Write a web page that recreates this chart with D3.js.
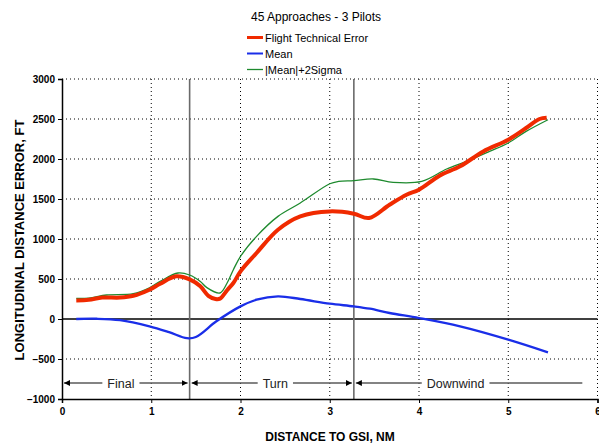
<!DOCTYPE html>
<html>
<head>
<meta charset="utf-8">
<script src="https://cdn.jsdelivr.net/npm/d3@7"></script>
<style>
  body { margin: 0; background: #fff; }
  svg text { font-family: "Liberation Sans", Arial, sans-serif; }
</style>
</head>
<body>
<svg class="svg1" width="599" height="443"></svg>
<script>
// chart values
var fteX = [0.16, 0.3, 0.45, 0.65, 0.8, 0.98, 1.1, 1.28, 1.43, 1.55, 1.64, 1.72, 1.77, 1.85, 1.92, 2.0, 2.18, 2.42, 2.67, 3.0, 3.27, 3.44, 3.67, 3.86, 4.0, 4.23, 4.46, 4.72, 5.0, 5.2, 5.35, 5.43];
var fteY = [232, 240, 268, 268, 290, 366, 440, 533, 495, 408, 290, 250, 255, 360, 450, 595, 825, 1116, 1283, 1345, 1316, 1262, 1428, 1553, 1616, 1791, 1908, 2095, 2241, 2387, 2500, 2515];

var meanX = [0.16, 0.39, 0.65, 0.98, 1.2, 1.4, 1.5, 1.73, 2.0, 2.18, 2.42, 2.67, 3.0, 3.27, 3.45, 3.67, 4.0, 4.46, 5.0, 5.445];
var meanY = [0, 3, -15, -92, -165, -240, -225, -29, 158, 241, 283, 250, 191, 158, 129, 75, 12, -92, -258, -417];

var sigX = [0.16, 0.3, 0.5, 0.8, 0.98, 1.1, 1.3, 1.43, 1.55, 1.62, 1.77, 1.85, 1.92, 2.0, 2.18, 2.42, 2.67, 3.0, 3.1, 3.27, 3.49, 3.71, 4.03, 4.31, 4.53, 4.79, 5.0, 5.2, 5.445];
var sigY = [258, 262, 300, 316, 390, 470, 575, 550, 470, 395, 325, 450, 616, 783, 1033, 1283, 1450, 1691, 1720, 1730, 1750, 1708, 1720, 1875, 1970, 2095, 2200, 2345, 2491];

var seriesNames = ["Flight Technical Error", "Mean", "|Mean|+2Sigma"];
var xTicks = [0, 1, 2, 3, 4, 5, 6];
var yTicks = [-1000, -500, 0, 500, 1000, 1500, 2000, 2500, 3000];

var phaseNames = ["Final", "Turn", "Downwind"];
var phaseStart = [0, 1.43, 3.27];
var phaseEnd = [1.43, 3.27, 5.83];
var phaseLabelX = [0.66, 2.39, 4.41];
var phaseY = -800;

var LEFT = 62, RIGHT = 597.5, TOP = 79, BOTTOM = 399;
var FONT = "'Liberation Sans', Arial, sans-serif";

var svg1 = d3.select(".svg1");

var scaleX = d3.scaleLinear().domain([0, 6]).range([LEFT, RIGHT]);
var scaleY = d3.scaleLinear().domain([-1000, 3000]).range([BOTTOM, TOP]);

// grid
svg1.append("g").selectAll("line")
    .data(yTicks.filter(function(d) { return d != 0 && d != -1000; }))
    .enter().append("line")
    .attr("x1", LEFT).attr("x2", RIGHT)
    .attr("y1", function(d) { return scaleY(d); })
    .attr("y2", function(d) { return scaleY(d); })
    .attr("stroke", "#000").attr("stroke-width", 1)
    .attr("stroke-dasharray", "1,3");

svg1.append("g").selectAll("line")
    .data(xTicks.filter(function(d) { return d != 0; }))
    .enter().append("line")
    .attr("x1", function(d) { return scaleX(d); })
    .attr("x2", function(d) { return scaleX(d); })
    .attr("y1", TOP).attr("y2", BOTTOM)
    .attr("stroke", "#000").attr("stroke-width", 1)
    .attr("stroke-dasharray", "1,3");

// zero line
svg1.append("line")
    .attr("x1", LEFT).attr("x2", RIGHT)
    .attr("y1", scaleY(0)).attr("y2", scaleY(0))
    .attr("stroke", "#000").attr("stroke-width", 1.3);

// phase boundaries
svg1.append("g").selectAll("line")
    .data(phaseStart.slice(1))
    .enter().append("line")
    .attr("x1", function(d) { return scaleX(d); })
    .attr("x2", function(d) { return scaleX(d); })
    .attr("y1", TOP).attr("y2", BOTTOM)
    .attr("stroke", "#6a6a6a").attr("stroke-width", 1.6);

// axes
var yAxis = d3.axisLeft(scaleY).tickValues(yTicks).tickFormat(d3.format("d"))
    .tickSize(4).tickPadding(3);
var gy = svg1.append("g")
    .attr("transform", "translate(" + LEFT + ",0)")
    .call(yAxis);
gy.selectAll("text").style("font-weight", "bold").style("font-size", "10px")
    .style("font-family", FONT).attr("fill", "#000");
gy.select(".domain").attr("stroke-width", 1.5);

var xAxis = d3.axisBottom(scaleX).tickValues(xTicks).tickFormat(d3.format("d"))
    .tickSize(4).tickPadding(5);
var gx = svg1.append("g")
    .attr("transform", "translate(0," + BOTTOM + ")")
    .call(xAxis);
gx.selectAll("text").style("font-weight", "bold").style("font-size", "10px")
    .style("font-family", FONT).attr("fill", "#000");
gx.select(".domain").attr("stroke-width", 1.5);

// axis titles
svg1.append("text")
    .attr("x", 330).attr("y", 441)
    .attr("text-anchor", "middle")
    .style("font-weight", "bold").style("font-size", "12px")
    .text("DISTANCE TO GSI, NM");

svg1.append("text")
    .attr("transform", "translate(24,240) rotate(-90)")
    .attr("text-anchor", "middle")
    .style("font-weight", "bold").style("font-size", "13px")
    .text("LONGITUDINAL DISTANCE ERROR, FT");

// phase annotations
var defs = svg1.append("defs");
defs.append("marker").attr("id", "arrEnd")
    .attr("viewBox", "0 0 10 10").attr("refX", 10).attr("refY", 5)
    .attr("markerWidth", 6).attr("markerHeight", 6).attr("markerUnits", "userSpaceOnUse")
    .attr("orient", "auto")
    .append("path").attr("d", "M0,0 L10,5 L0,10 Z").attr("fill", "#000");
defs.append("marker").attr("id", "arrStart")
    .attr("viewBox", "0 0 10 10").attr("refX", 0).attr("refY", 5)
    .attr("markerWidth", 6).attr("markerHeight", 6).attr("markerUnits", "userSpaceOnUse")
    .attr("orient", "auto")
    .append("path").attr("d", "M10,0 L0,5 L10,10 Z").attr("fill", "#000");

var phases = phaseNames.map(function(n, i) {
    return { name: n, x0: phaseStart[i], x1: phaseEnd[i], lx: phaseLabelX[i], last: i == phaseNames.length - 1 };
});

var pg = svg1.append("g");
pg.selectAll("line")
    .data(phases)
    .enter().append("line")
    .attr("x1", function(d) { return scaleX(d.x0) + 2; })
    .attr("x2", function(d) { return scaleX(d.x1) - (d.last ? 0 : 2); })
    .attr("y1", scaleY(phaseY)).attr("y2", scaleY(phaseY))
    .attr("stroke", "#5a5a5a").attr("stroke-width", 1.3)
    .attr("marker-start", "url(#arrStart)")
    .attr("marker-end", function(d) { return d.last ? null : "url(#arrEnd)"; });

var labels = pg.selectAll("g.lbl")
    .data(phases)
    .enter().append("g").attr("class", "lbl");
labels.append("text")
    .attr("x", function(d) { return scaleX(d.lx); })
    .attr("y", scaleY(phaseY) + 4.5)
    .attr("text-anchor", "middle")
    .style("font-size", "12.5px").attr("fill", "#222")
    .text(function(d) { return d.name; })
    .each(function() {
        var b = this.getBBox();
        d3.select(this.parentNode).insert("rect", "text")
            .attr("x", b.x - 5).attr("y", b.y)
            .attr("width", b.width + 10).attr("height", b.height)
            .attr("fill", "#fff");
    });

// series
var line = d3.line()
    .x(function(d) { return scaleX(d[0]); })
    .y(function(d) { return scaleY(d[1]); })
    .curve(d3.curveCatmullRom);

function zip(xs, ys) { return xs.map(function(x, i) { return [x, ys[i]]; }); }

svg1.append("path").datum(zip(sigX, sigY))
    .attr("d", line).attr("fill", "none")
    .attr("stroke", "#1e8a2e").attr("stroke-width", 1.3);

svg1.append("path").datum(zip(fteX, fteY))
    .attr("d", line).attr("fill", "none")
    .attr("stroke", "#f02a00").attr("stroke-width", 4);

svg1.append("path").datum(zip(meanX, meanY))
    .attr("d", line).attr("fill", "none")
    .attr("stroke", "#1a2ee8").attr("stroke-width", 2.3);

// title and legend
svg1.append("text")
    .attr("x", 316).attr("y", 21)
    .attr("text-anchor", "middle")
    .style("font-size", "12px")
    .text("45 Approaches - 3 Pilots");

var legColors = ["#f02a00", "#1a2ee8", "#1e8a2e"];
var legWidths = [3, 2, 1.3];
var leg = svg1.append("g").selectAll("g")
    .data(seriesNames)
    .enter().append("g")
    .attr("transform", function(d, i) { return "translate(0," + (37.5 + i * 16) + ")"; });
leg.append("line")
    .attr("x1", 247).attr("x2", 263).attr("y1", 0).attr("y2", 0)
    .attr("stroke", function(d, i) { return legColors[i]; })
    .attr("stroke-width", function(d, i) { return legWidths[i]; });
leg.append("text")
    .attr("x", 265).attr("y", 4)
    .style("font-size", "11px")
    .text(function(d) { return d; });
</script>
</body>
</html>
